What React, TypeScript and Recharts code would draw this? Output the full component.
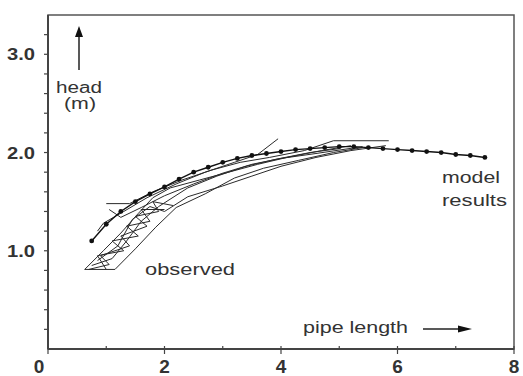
import { LineChart, Line, XAxis, YAxis, ReferenceArea } from "recharts";

// model results (dotted curve)
const modelX = [0.75, 1.0, 1.25, 1.5, 1.75, 2.0, 2.25, 2.5, 2.75, 3.0, 3.25, 3.5, 3.75, 4.0, 4.25, 4.5, 4.75, 5.0, 5.25, 5.5, 5.75, 6.0, 6.25, 6.5, 6.75, 7.0, 7.25, 7.5];
const modelY = [1.1, 1.27, 1.4, 1.5, 1.58, 1.65, 1.73, 1.8, 1.85, 1.9, 1.94, 1.97, 1.99, 2.01, 2.03, 2.04, 2.05, 2.06, 2.06, 2.05, 2.04, 2.03, 2.02, 2.01, 2.0, 1.98, 1.97, 1.95];

// observed profiles (hatched band)
const obsAx = [0.63, 1.15, 1.5, 1.85, 2.2, 2.7, 3.2, 3.7, 4.3, 4.9, 5.4];
const obsAy = [0.81, 0.81, 1.02, 1.24, 1.44, 1.58, 1.74, 1.84, 1.92, 2.0, 2.05];
const obsBx = [0.63, 0.95, 1.25, 1.55, 1.8, 2.1, 2.6, 3.1, 3.6, 4.1, 4.7, 5.2];
const obsBy = [0.81, 1.0, 1.18, 1.38, 1.54, 1.64, 1.72, 1.8, 1.88, 1.95, 2.02, 2.07];
const obsCx = [0.75, 1.1, 1.35, 1.6, 1.9, 2.4, 2.9, 3.4, 3.9, 4.5, 5.0];
const obsCy = [0.85, 0.92, 1.1, 1.3, 1.45, 1.64, 1.76, 1.86, 1.93, 2.0, 2.04];
const obsDx = [0.85, 1.2, 1.45, 1.75, 2.0, 2.4, 3.0, 3.5, 4.0, 4.6, 5.2, 5.8];
const obsDy = [0.9, 1.05, 1.32, 1.45, 1.4, 1.55, 1.66, 1.76, 1.86, 1.95, 2.02, 2.07];
const obsEx = [1.0, 1.4, 1.8, 2.3, 2.8, 3.3, 3.8, 4.4, 4.9, 5.85];
const obsEy = [1.48, 1.48, 1.6, 1.72, 1.82, 1.9, 1.95, 2.02, 2.12, 2.12];
const obsFx = [1.05, 1.25, 1.6, 2.0, 2.5, 3.0, 3.5, 4.0, 4.6, 5.4];
const obsFy = [1.42, 1.34, 1.44, 1.56, 1.68, 1.79, 1.88, 1.94, 1.99, 2.06];
const obsGx = [0.85, 0.95, 1.3, 1.7, 2.2, 2.7, 3.2, 3.6, 3.95];
const obsGy = [1.2, 1.28, 1.4, 1.54, 1.68, 1.8, 1.9, 1.98, 2.14];
const obsHx = [1.0, 0.85, 1.3, 1.1, 1.55, 1.35, 1.75, 1.6, 2.0];
const obsHy = [0.81, 0.95, 1.0, 1.1, 1.15, 1.25, 1.3, 1.42, 1.42];
const obsIx = [0.7, 1.05, 0.9, 1.4, 1.25, 1.7, 1.5, 1.9, 1.8, 2.15];
const obsIy = [0.81, 0.86, 0.95, 1.05, 1.15, 1.25, 1.35, 1.4, 1.5, 1.46];

const xTicks = [0, 1, 2, 3, 4, 5, 6, 7, 8];
const yTicks = [0.2, 0.4, 0.6, 0.8, 1.0, 1.2, 1.4, 1.6, 1.8, 2.0, 2.2, 2.4, 2.6, 2.8, 3.0, 3.2];
const yLabels: Record<string, string> = { "1": "1.0", "2": "2.0", "3": "3.0" };

const pts = (xs: number[], ys: number[]) => xs.map((x, i) => ({ x, y: ys[i] }));

const observed = [
  pts(obsAx, obsAy),
  pts(obsBx, obsBy),
  pts(obsCx, obsCy),
  pts(obsDx, obsDy),
  pts(obsEx, obsEy),
  pts(obsFx, obsFy),
  pts(obsGx, obsGy),
  pts(obsHx, obsHy),
  pts(obsIx, obsIy),
];

const ink = "#2a2a2a";
const font = "'Liberation Sans', Arial, sans-serif";

const YTick = (props: any) => {
  const { x, y, payload } = props;
  const v = Math.round(payload.value * 10) / 10;
  const label = yLabels[String(v)];
  return (
    <g>
      <line x1={x - 4} x2={x} y1={y} y2={y} stroke="#444" strokeWidth={1.2} />
      {label && (
        <text x={x - 13} y={y + 6} textAnchor="end" fontSize={16} fontWeight="bold" fill="#333"
          fontFamily={font} textLength={28} lengthAdjust="spacingAndGlyphs">
          {label}
        </text>
      )}
    </g>
  );
};

const XTick = (props: any) => {
  const { x, y, payload } = props;
  const v = payload.value;
  const major = v % 2 === 0;
  return (
    <g>
      <line x1={x} x2={x} y1={y - 3} y2={major ? y + 5 : y + 1} stroke="#444" strokeWidth={1.2} />
      {major && (
        <text x={v === 0 ? x - 9 : x} y={y + 24} textAnchor="middle" fontSize={19} fontWeight="bold" fill="#333"
          fontFamily={font}>
          {v}
        </text>
      )}
    </g>
  );
};

const ModelDot = (props: any) => {
  const { cx, cy } = props;
  return <circle cx={cx} cy={cy} r={2.4} fill="#111" />;
};

export default function App() {
  return (
    <div style={{ position: "absolute", left: 0, top: 0, width: 523, height: 376, background: "#fff" }}>
      <LineChart width={523} height={376} margin={{ top: 15, right: 9, left: 0, bottom: 0 }}>
        <XAxis type="number" dataKey="x" domain={[0, 8]} ticks={xTicks} height={27}
          axisLine={{ stroke: "#444", strokeWidth: 2 }} tickLine={false} tickSize={0} tickMargin={0}
          tick={<XTick />} interval={0} allowDataOverflow />
        <YAxis type="number" dataKey="y" domain={[0, 3.4]} ticks={yTicks} width={48}
          axisLine={{ stroke: "#444", strokeWidth: 2 }} tickLine={false} tickSize={0} tickMargin={0}
          tick={<YTick />} interval={0} allowDataOverflow />
        <ReferenceArea x1={0} x2={8} y1={0} y2={3.4} fill="none" stroke="#555" strokeWidth={1.5} />
        {observed.map((d, i) => (
          <Line key={`obs-${i}`} data={d} dataKey="y" type="linear" stroke={ink} strokeWidth={1}
            dot={false} activeDot={false} isAnimationActive={false} />
        ))}
        <Line data={pts(modelX, modelY)} dataKey="y" type="linear" stroke="#111" strokeWidth={1.4}
          dot={<ModelDot />} activeDot={false} isAnimationActive={false} />
      </LineChart>
      <svg width={523} height={376} style={{ position: "absolute", left: 0, top: 0, pointerEvents: "none" }}>
        <g fill="#333" fontFamily={font} fontSize={16}>
          <line x1={79} x2={79} y1={70} y2={34} stroke="#222" strokeWidth={1.5} />
          <polygon points="79,26 75,37 83,37" fill="#111" />
          <text x={79} y={93} textAnchor="middle" textLength={46} lengthAdjust="spacingAndGlyphs">head</text>
          <text x={80} y={109} textAnchor="middle" textLength={32} lengthAdjust="spacingAndGlyphs">(m)</text>
          <text x={145} y={275} textLength={90} lengthAdjust="spacingAndGlyphs" fontSize={17}>observed</text>
          <text x={442} y={183} textLength={58} lengthAdjust="spacingAndGlyphs" fontSize={17}>model</text>
          <text x={442} y={206} textLength={65} lengthAdjust="spacingAndGlyphs" fontSize={17}>results</text>
          <text x={303} y={333} textLength={105} lengthAdjust="spacingAndGlyphs" fontSize={17}>pipe length</text>
          <line x1={423} x2={460} y1={329} y2={329} stroke="#222" strokeWidth={1.5} />
          <polygon points="472,329 458,325.5 458,332.5" fill="#111" />
        </g>
      </svg>
    </div>
  );
}
